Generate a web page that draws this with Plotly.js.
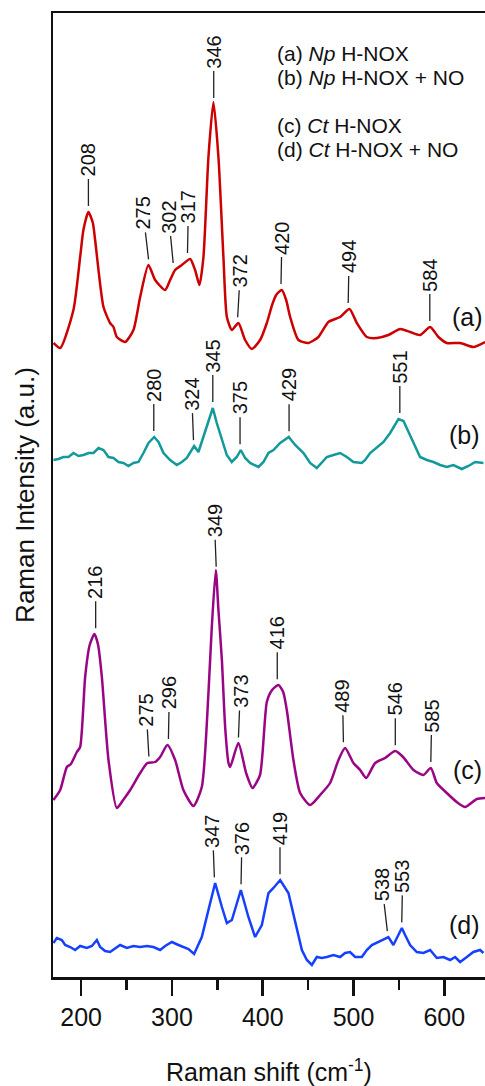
<!DOCTYPE html>
<html>
<head>
<meta charset="utf-8">
<script src="https://cdn.plot.ly/plotly-3.0.1.min.js"></script>
<style>html,body{margin:0;padding:0;background:#fff;}#chart{width:485px;height:1086px;}</style>
</head>
<body>
<div id="chart"></div>
<script>
// Raman shift (cm-1) and intensity (a.u., relative to each spectrum's own baseline)
const shiftA = [169.5,176.9,191.5,198.9,202.5,208,212.9,215.4,224.6,231.9,235.6,239.3,248.5,257.6,265,274.1,281.5,292.5,298,303.5,310.9,320,325.5,330.3,334.7,340.2,345.7,351.2,356.7,360.5,366,373.2,380.6,388,397.1,404.5,410.3,414.8,421,425.8,430.2,439.3,450.3,461.3,472.3,485.2,495.5,503.6,514.6,525.7,538.4,551.3,562.3,573.3,584.4,593.5,602.7,617.4,632,644.9];
const intensityA = [7,2,40,93,120,138,127,110,43,27,23,13,8,20,53,85,70,60,70,80,85,91,80,65,93,193,248,193,93,33,20,27,10,1,10,27,45,55,60,50,33,10,7,13,28,33,41,27,13,12,15,21,18,15,23,13,7,7,3,8];

const shiftB = [169.5,175.0,180.5,186.0,191.6,197.1,202.6,208.1,213.6,219.1,224.6,230.1,235.6,241.1,246.6,252.1,257.6,263.1,268.6,274.2,280.4,285.2,290.7,298.0,305.4,310.9,316.4,324.4,329.2,334.7,340.2,345.0,349.4,354.9,360.4,365.9,371.4,375.8,380.6,386.1,395.3,400.8,406.3,411.8,419.2,428.7,435.7,444.9,452.2,459.5,465.0,470.6,477.9,485.2,492.6,499.9,509.1,512.8,518.3,525.6,533.0,540.3,545.8,549.5,555.0,560.5,566.0,573.3,580.7,588.0,595.4,602.7,610.0,619.2,626.6,633.9,643.1];
const intensityB = [10,11,13,13,17,14,15,17,17,22,20,13,12,8,7,4,7,8,17,27,33,28,17,10,5,8,12,24,18,33,50,62,47,30,15,8,13,20,12,7,3,8,17,20,27,33,25,17,7,2,8,13,15,17,13,8,7,10,17,22,28,37,45,51,49,38,27,13,10,8,5,3,5,1,4,8,7];

const shiftC = [169.5,176.9,184.3,188.7,195.3,198.9,204.4,209.4,214.6,218.7,222.8,230.1,239.3,246.3,254,265,273,281.5,287,295,303.5,312.6,323.7,332.9,340.2,343.9,348.3,351.2,355,358.6,362.3,364.1,373.2,381.7,388.7,397,404.5,410.3,417.3,422.5,426.5,433.8,441.2,452.2,463.2,474.2,483.4,490.7,499.9,507.3,513.9,523.8,534.8,545.8,554.6,566,577,585.1,591.7,602.7,613.7,622.9,635.8,644.9];
const intensityC = [10,20,43,46,58,63,133,165,176,165,133,50,2,10,20,37,47,48,53,65,50,20,4,23,117,183,240,200,150,83,47,43,67,37,22,35,108,120,125,118,100,50,17,5,15,27,50,62,47,40,32,47,52,59,53,40,35,42,27,17,8,3,11,12];

const shiftD = [169.5,173.2,178.7,182.4,187.9,193.4,198.9,206.3,211.8,217.3,220.9,226.4,231.9,239.3,242.9,250.3,257.6,265,272.4,279.6,287,292.5,299.9,307.2,312.7,318.2,324.4,332.9,340.2,347.6,355,360.5,366,375.9,384.2,391.6,399,406.3,411.8,419.2,428.3,435.7,443.1,448.6,454.1,459.6,465.1,470.6,477.9,485.2,490.7,496.2,501.8,509.1,514.6,520.2,527.4,532.9,538.4,543.9,549.4,553.2,556.8,562.3,569.7,577,584.4,591.7,599,606.4,611.9,617.4,624.8,632,639.4,643.1];
const intensityD = [23,28,26,21,19,16,20,18,20,26,19,15,14,19,21,18,20,19,20,19,16,20,24,21,19,17,12,29,56,83,59,43,46,76,49,29,41,73,78,86,73,46,16,6,1,9,8,9,11,9,13,14,9,9,16,21,24,26,29,21,31,38,31,21,14,13,16,8,9,6,9,4,9,14,16,13];

// Vertical stacking offsets of the four spectra
const offsets = [627, 507, 167, 11];

// Peak labels (cm-1)
const peaksA = [208,275,302,317,346,372,420,494,584];
const peaksB = [280,324,345,375,429,551];
const peaksC = [216,275,296,349,373,416,489,546,585];
const peaksD = [347,376,419,538,553];

const traceNames = ['(a)','(b)','(c)','(d)'];
const legendLines = ['(a) <i>Np</i> H-NOX','(b) <i>Np</i> H-NOX + NO','(c) <i>Ct</i> H-NOX','(d) <i>Ct</i> H-NOX + NO'];
const xTicks = [200,300,400,500,600];

// styling
const colors = ['#cc0000','#13999a','#990585','#1640ff'];
const lineShapes = ['spline','linear','spline','linear'];
const labelDx = [[0,-6,-5,1,0,3,1,1,0],[0,-2,0,0,0,0],[0,-3,1,-2,2,0,-1,0,1],[-2,1,0,-6,1]];
const FONT = 'Arial, "Liberation Sans", sans-serif';

const xs = [shiftA, shiftB, shiftC, shiftD];
const ys = [intensityA, intensityB, intensityC, intensityD];
const peaks = [peaksA, peaksB, peaksC, peaksD];

function interp(x, X, Y) {
  for (let i = 0; i < X.length - 1; i++) {
    if (x >= X[i] && x <= X[i+1]) {
      const t = (x - X[i]) / (X[i+1] - X[i]);
      return Y[i] + t * (Y[i+1] - Y[i]);
    }
  }
  return Y[Y.length-1];
}
function localMax(x, X, Y) {
  let m = -Infinity;
  for (let d = -3; d <= 3; d += 0.5) m = Math.max(m, interp(x + d, X, Y));
  return m;
}

const data = xs.map((X, k) => ({
  x: X,
  y: ys[k].map(v => v + offsets[k]),
  type: 'scatter', mode: 'lines',
  name: traceNames[k],
  line: {color: colors[k], width: 2.5, shape: lineShapes[k], smoothing: 0.6},
  hoverinfo: 'x'
}));

const annotations = [];
peaks.forEach((P, k) => {
  P.forEach((p, i) => {
    annotations.push({
      x: p, y: localMax(p, xs[k], ys[k]) + offsets[k], xref: 'x', yref: 'y',
      text: String(p), textangle: -90,
      showarrow: true, arrowhead: 0, arrowwidth: 1.3, arrowcolor: '#222',
      ax: labelDx[k][i], ay: -52, standoff: 6, borderpad: 2,
      font: {family: FONT, size: 20, color: '#111'}
    });
  });
});
const legendY = [0.9585, 0.9336, 0.8828, 0.8589];
legendLines.forEach((t, i) => annotations.push({
  x: 0.514, y: legendY[i], xref: 'paper', yref: 'paper', xanchor: 'left', yanchor: 'middle',
  text: t, showarrow: false, font: {family: FONT, size: 21, color: '#111'}
}));
const tagX = [0.9606, 0.9537, 0.9606, 0.9537];
const tagY = [0.6846, 0.5622, 0.2147, 0.0539];
traceNames.forEach((t, i) => annotations.push({
  x: tagX[i], y: tagY[i], xref: 'paper', yref: 'paper', xanchor: 'center', yanchor: 'middle',
  text: t, showarrow: false, font: {family: FONT, size: 25, color: '#111'}
}));

const layout = {
  width: 485, height: 1086,
  margin: {l: 53, r: 0, t: 13, b: 109},
  paper_bgcolor: '#fff', plot_bgcolor: '#fff',
  showlegend: false,
  font: {family: FONT, color: '#111'},
  xaxis: {
    range: [169, 644.8], showgrid: false, zeroline: false,
    showline: true, linecolor: '#111', linewidth: 2.5, mirror: true,
    ticks: 'outside', ticklen: 16, tickwidth: 2.5, tickcolor: '#111',
    tickvals: xTicks, ticktext: xTicks.map(String),
    minor: {ticks: 'outside', ticklen: 10, tickwidth: 2.5, tickcolor: '#111', dtick: 50, tick0: 150, showgrid: false},
    tickfont: {family: FONT, size: 25, color: '#111'},
    title: {text: 'Raman shift (cm<sup>-1</sup>)', font: {family: FONT, size: 25, color: '#111'}, standoff: 38}
  },
  yaxis: {
    range: [0, 964], showgrid: false, zeroline: false,
    showline: true, linecolor: '#111', linewidth: 2.5, mirror: false,
    ticks: '', showticklabels: false,
    title: {text: 'Raman Intensity (a.u.)', font: {family: FONT, size: 26, color: '#111'}, standoff: 9}
  },
  annotations: annotations
};

Plotly.newPlot('chart', data, layout, {displayModeBar: false, staticPlot: true});
</script>
</body>
</html>
